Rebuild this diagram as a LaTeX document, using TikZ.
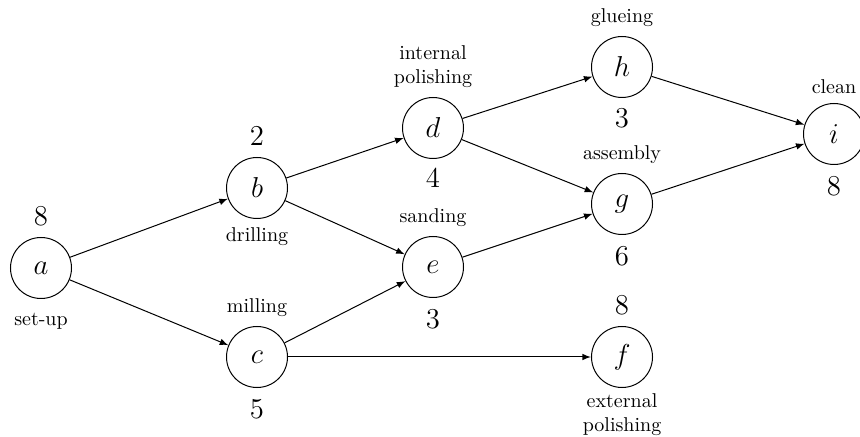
\documentclass[tikz,border=0pt]{standalone}
\usetikzlibrary{arrows}
\begin{document}
\begin{tikzpicture}[x=0.5pt,y=-0.5pt,
  task/.style={circle,draw,minimum size=30.5pt,inner sep=0pt,font=\Large,line width=0.5pt},
  num/.style={font=\Large},
  lbl/.style={font=\normalsize,align=center},
  conn/.style={-latex,line width=0.5pt}]
\useasboundingbox (0,0) rectangle (860,437);
\node[task,label={[num,label distance=2pt]above:8},label={[lbl,label distance=3.5pt]below:set-up}] (a) at (41,268) {$a$};
\node[task,label={[num,label distance=2pt]above:2},label={[lbl,label distance=1pt]below:drilling}] (b) at (257,188) {$b$};
\node[task,label={[lbl,label distance=1pt]above:milling},label={[num,label distance=2pt]below:5}] (c) at (257,357) {$c$};
\node[task,label={[lbl,label distance=1pt]above:internal\\polishing},label={[num,label distance=1pt]below:4}] (d) at (433,128) {$d$};
\node[task,label={[lbl,label distance=1pt]above:sanding},label={[num,label distance=2pt]below:3}] (e) at (433,267) {$e$};
\node[task,label={[num,label distance=2pt]above:8},label={[lbl,label distance=-0.5pt]below:external\\polishing}] (f) at (622,357) {$f$};
\node[task,label={[lbl,label distance=1pt]above:assembly},label={[num,label distance=2pt]below:6}] (g) at (622,204) {$g$};
\node[task,label={[lbl,label distance=1pt]above:glueing},label={[num,label distance=1.5pt]below:3}] (h) at (622,67) {$h$};
\node[task,label={[lbl,label distance=1pt]above:clean},label={[num,label distance=2pt]below:8}] (i) at (834,134) {$i$};
\draw[conn] (a) -- (b);
\draw[conn] (a) -- (c);
\draw[conn] (b) -- (d);
\draw[conn] (b) -- (e);
\draw[conn] (c) -- (e);
\draw[conn] (c) -- (f);
\draw[conn] (d) -- (h);
\draw[conn] (d) -- (g);
\draw[conn] (e) -- (g);
\draw[conn] (h) -- (i);
\draw[conn] (g) -- (i);
\end{tikzpicture}
\end{document}
